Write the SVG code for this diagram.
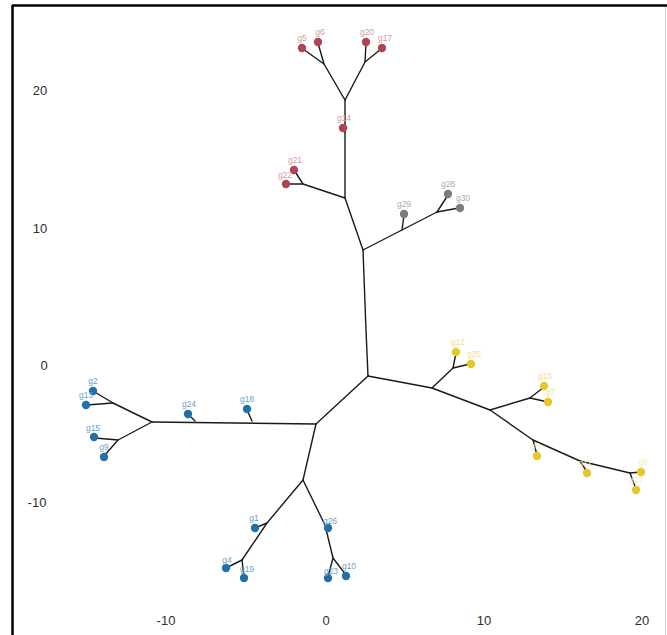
<svg xmlns="http://www.w3.org/2000/svg" width="667" height="635" viewBox="0 0 667 635">
  <style>
    .edge { fill: none; stroke: #1a1a1a; stroke-width: 1.4; stroke-linecap: round; stroke-linejoin: round; }
    .axis { font-family: "Liberation Sans", Arial, sans-serif; font-size: 13px; fill: #2e2e2e; }
    .lab { font-family: "Liberation Sans", Arial, sans-serif; font-size: 8.5px; text-anchor: middle; }
    .red circle { fill: #ad4650; }
    .red text { fill: #d19a9e; }
    .gray circle { fill: #7c7c7c; }
    .gray text { fill: #ababab; }
    .yel circle { fill: #e3c92c; }
    .yel text { fill: #eedf8c; }
    .yel text.faint { fill: #f4ecbc; }
    .blue circle { fill: #236fa8; }
    .blue text { fill: #6a9fc8; }
  </style>

  <!-- plot frame -->
  <rect x="0" y="0" width="667" height="635" fill="#ffffff"/>
  <line x1="12" y1="5.5" x2="667" y2="5.5" stroke="#000" stroke-width="2.5"/>
  <line x1="12.5" y1="5" x2="12.5" y2="635" stroke="#000" stroke-width="2.5"/>
  <line x1="665.5" y1="7" x2="665.5" y2="635" stroke="#cfcfcf" stroke-width="1"/>

  <!-- axis tick labels -->
  <g id="axes" class="axis">
    <text x="40" y="95" text-anchor="middle">20</text>
    <text x="40" y="233" text-anchor="middle">10</text>
    <text x="44" y="370" text-anchor="middle">0</text>
    <text x="37" y="507" text-anchor="middle">-10</text>
    <text x="166" y="625" text-anchor="middle">-10</text>
    <text x="326" y="625" text-anchor="middle">0</text>
    <text x="484" y="625" text-anchor="middle">10</text>
    <text x="642" y="625" text-anchor="middle">20</text>
  </g>

  <!-- tree branches -->
  <g id="connectors" class="edge">
    <!-- trunk -->
    <path d="M368,376 L366,330 L363,250"/>
    <path d="M368,376 L316,424"/>
    <!-- red clade -->
    <path d="M363,250 L345,198 L345,100"/>
    <path d="M345,198 L303,184 L294,170"/>
    <path d="M303,184 L287,184"/>
    <path d="M345,100 L324,64 L303,49"/>
    <path d="M324,64 L318,43"/>
    <path d="M345,100 L365,62 L366,43"/>
    <path d="M365,62 L381,49"/>
    <path d="M345,132 L343,128"/>
    <!-- gray clade -->
    <path d="M363,250 L437,212"/>
    <path d="M402,230 L404,215"/>
    <path d="M437,212 L448,195"/>
    <path d="M437,212 L459,208"/>
    <!-- yellow clade -->
    <path d="M368,376 L432,388 L490,410 L533,440 L580,461 L630,473"/>
    <path d="M432,388 L453,368 L456,353"/>
    <path d="M453,368 L470,364"/>
    <path d="M490,410 L530,398 L544,387"/>
    <path d="M530,398 L548,402"/>
    <path d="M533,440 L537,455"/>
    <path d="M580,461 L587,472"/>
    <path d="M630,473 L641,472"/>
    <path d="M630,473 L636,489"/>
    <!-- blue, left arm -->
    <path d="M316,424 L152,422"/>
    <path d="M252,421 L247,410"/>
    <path d="M195,421 L188,414"/>
    <path d="M152,422 L113,403 L93,391"/>
    <path d="M113,403 L87,405"/>
    <path d="M152,422 L118,440 L95,438"/>
    <path d="M118,440 L104,456"/>
    <!-- blue, lower arm -->
    <path d="M316,424 L303,480"/>
    <path d="M303,480 L267,523 L242,560 L226,568"/>
    <path d="M267,523 L255,528"/>
    <path d="M242,560 L244,577"/>
    <path d="M303,480 L325,525 L333,558 L328,577"/>
    <path d="M333,558 L346,575"/>
  </g>

  <!-- tips: red -->
  <g class="red">
    <g id="g5"><circle cx="302" cy="48" r="4.2"/><text class="lab" x="302" y="41">g5</text></g>
    <g id="g6"><circle cx="318" cy="42" r="4.2"/><text class="lab" x="320" y="35">g6</text></g>
    <g id="g20"><circle cx="366" cy="42" r="4.2"/><text class="lab" x="367" y="35">g20</text></g>
    <g id="g17"><circle cx="382" cy="48" r="4.2"/><text class="lab" x="385" y="41">g17</text></g>
    <g id="g14"><circle cx="343" cy="128" r="4.2"/><text class="lab" x="344" y="121">g14</text></g>
    <g id="g21"><circle cx="294" cy="170" r="4.2"/><text class="lab" x="295" y="163">g21</text></g>
    <g id="g22"><circle cx="286" cy="184" r="4.2"/><text class="lab" x="285" y="178">g22</text></g>
  </g>

  <!-- tips: gray -->
  <g class="gray">
    <g id="g29"><circle cx="404" cy="214" r="4.2"/><text class="lab" x="404" y="207">g29</text></g>
    <g id="g28"><circle cx="448" cy="194" r="4.2"/><text class="lab" x="448" y="187">g28</text></g>
    <g id="g30"><circle cx="460" cy="208" r="4.2"/><text class="lab" x="463" y="201">g30</text></g>
  </g>

  <!-- tips: yellow -->
  <g class="yel">
    <g id="g12"><circle cx="456" cy="352" r="4.2"/><text class="lab" x="458" y="345">g12</text></g>
    <g id="g25"><circle cx="471" cy="364" r="4.2"/><text class="lab" x="474" y="357">g25</text></g>
    <g id="g16"><circle cx="544" cy="386" r="4.2"/><text class="lab" x="545" y="379">g16</text></g>
    <g id="g7"><circle cx="548" cy="402" r="4.2"/><text class="lab" x="550" y="395">g7</text></g>
    <g id="g3"><circle cx="537" cy="456" r="4.2"/><text class="lab faint" x="535" y="449">g3</text></g>
    <g id="g11"><circle cx="587" cy="473" r="4.2"/><text class="lab faint" x="585" y="466">g11</text></g>
    <g id="g8"><circle cx="641" cy="472" r="4.2"/><text class="lab faint" x="643" y="465">g8</text></g>
    <g id="g27"><circle cx="636" cy="490" r="4.2"/><text class="lab faint" x="636" y="483">g27</text></g>
  </g>

  <!-- tips: blue -->
  <g class="blue">
    <g id="g2"><circle cx="93" cy="391" r="4.2"/><text class="lab" x="93" y="384">g2</text></g>
    <g id="g13"><circle cx="86" cy="405" r="4.2"/><text class="lab" x="86" y="398">g13</text></g>
    <g id="g15"><circle cx="94" cy="437" r="4.2"/><text class="lab" x="93" y="431">g15</text></g>
    <g id="g9"><circle cx="104" cy="457" r="4.2"/><text class="lab" x="104" y="450">g9</text></g>
    <g id="g24"><circle cx="188" cy="414" r="4.2"/><text class="lab" x="189" y="407">g24</text></g>
    <g id="g18"><circle cx="247" cy="409" r="4.2"/><text class="lab" x="247" y="402">g18</text></g>
    <g id="g1"><circle cx="255" cy="528" r="4.2"/><text class="lab" x="254" y="521">g1</text></g>
    <g id="g26"><circle cx="328" cy="528" r="4.2"/><text class="lab" x="330" y="524">g26</text></g>
    <g id="g4"><circle cx="226" cy="568" r="4.2"/><text class="lab" x="227" y="563">g4</text></g>
    <g id="g19"><circle cx="244" cy="578" r="4.2"/><text class="lab" x="247" y="572">g19</text></g>
    <g id="g23"><circle cx="328" cy="578" r="4.2"/><text class="lab" x="331" y="574">g23</text></g>
    <g id="g10"><circle cx="346" cy="576" r="4.2"/><text class="lab" x="349" y="569">g10</text></g>
  </g>
</svg>
